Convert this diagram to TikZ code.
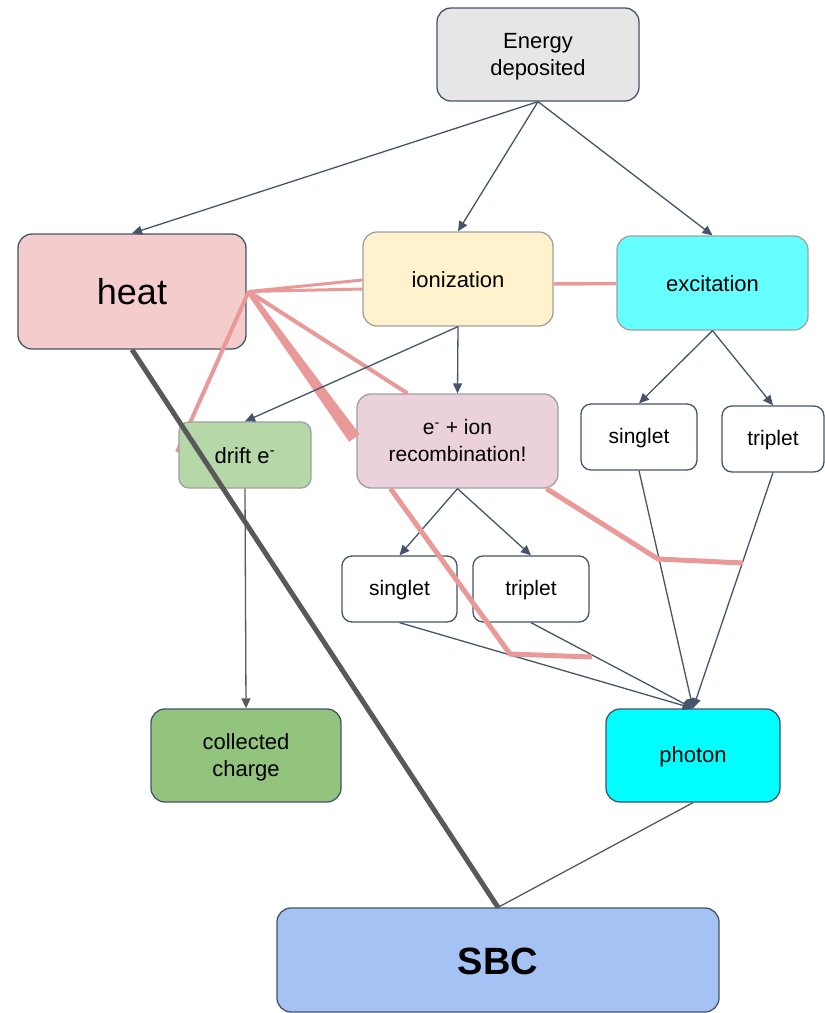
\documentclass[tikz,border=0pt]{standalone}
\usepackage{fontspec}
\setmainfont{Liberation Sans}
\usetikzlibrary{arrows.meta,calc}
\definecolor{slate}{HTML}{44546A}
\definecolor{lgray}{HTML}{A0A0A0}
\definecolor{egray}{HTML}{E6E6E6}
\definecolor{heatc}{HTML}{F4CCCC}
\definecolor{ionc}{HTML}{FFF2CC}
\definecolor{excc}{HTML}{66FFFF}
\definecolor{recc}{HTML}{EAD1DC}
\definecolor{driftc}{HTML}{B6D7A8}
\definecolor{collc}{HTML}{93C47D}
\definecolor{photc}{HTML}{00FFFF}
\definecolor{sbcc}{HTML}{A4C2F4}
\definecolor{pinkc}{HTML}{EA9999}
\definecolor{dgray}{HTML}{595959}
\newcommand\mysa{\rule[-0.08em]{0pt}{0.9em}}
\newcommand\myfirst{\rule{0pt}{0.9em}}
\newcommand\mylast{\rule[-0.22em]{0pt}{0pt}}
\tikzset{
  box/.style={rectangle, rounded corners=14pt, line width=1.3pt, align=center, inner sep=0pt,
    font=\fontsize{22}{27}\selectfont},
  sbox/.style={box, rounded corners=10pt, fill=white, draw=slate, minimum width=#1, minimum height=66pt},
  arr/.style={draw=slate, line width=1.3pt, -{Triangle[length=10pt,width=9pt]}},
  garr/.style={draw=dgray, line width=1.3pt, -{Triangle[length=10pt,width=9pt]}},
  pinkline/.style={draw=pinkc, line width=#1},
}
\begin{document}
\begin{tikzpicture}[x=1pt,y=-1pt]
\useasboundingbox (0,0) rectangle (825,1013);

\node[box, fill=egray, draw=slate, minimum width=202pt, minimum height=93pt] (en) at (538,54.5) {\myfirst Energy\\deposited\mylast};
\node[box, fill=heatc, draw=slate, minimum width=228pt, minimum height=115pt, font=\fontsize{36}{40}\selectfont] (heat) at (132,291.5) {\mysa heat};
\node[box, fill=ionc, draw=lgray, minimum width=190pt, minimum height=94pt] (ion) at (458,279) {\mysa ionization};
\node[box, fill=excc, draw=lgray, minimum width=191pt, minimum height=94pt] (exc) at (712.5,283) {\mysa excitation};
\node[box, fill=recc, draw=lgray, minimum width=201pt, minimum height=94pt, font=\fontsize{21}{27}\selectfont] (rec) at (457.5,441) {\myfirst e\textsuperscript{-} + ion\\recombination!\mylast};
\node[sbox=116pt, font=\fontsize{21}{25}\selectfont] (sR) at (639,437) {\mysa singlet};
\node[sbox=102pt, font=\fontsize{21}{25}\selectfont] (tR) at (773,439) {\mysa triplet};
\node[sbox=115pt, font=\fontsize{21}{25}\selectfont] (sM) at (399.5,589) {\mysa singlet};
\node[sbox=116pt, font=\fontsize{21}{25}\selectfont] (tM) at (531,589) {\mysa triplet};
\node[box, fill=collc, draw=slate, minimum width=190pt, minimum height=93pt] (coll) at (246,755.5) {\myfirst collected\\charge\mylast};
\node[box, fill=photc, draw=slate, minimum width=174pt, minimum height=93pt] (phot) at (693,755.5) {\mysa photon};
\node[box, fill=sbcc, draw=slate, minimum width=442pt, minimum height=104pt, font=\fontsize{38}{42}\selectfont\bfseries] (sbc) at (498,960) {\mysa SBC};

% pink heat lines
\coordinate (hp) at ($(heat.east)+(2,0)$);
\coordinate (dl) at (177,452);
\draw[pinkline=4pt] (hp) -- (dl);

\node[box, fill=driftc, draw=lgray, minimum width=132pt, minimum height=66pt, rounded corners=10pt] (drift) at (245,455) {\mysa drift e\textsuperscript{-}};

\draw[pinkline=3pt] (hp) -- ($(ion.west)+(0,1)$);
\draw[pinkline=3pt] (hp) -- ($(ion.west)+(0,10)$);
\draw[pinkline=3.5pt] ($(ion.east)+(0,5)$) -- ($(exc.west)+(0,0.5)$);
\coordinate (rt) at ($(rec.north)+(-50,0)$);
\draw[pinkline=4pt] (hp) -- (rt);
\fill[pinkc] ($(hp)+(2,-1.5)$) -- ($(rec.west)+(3.25,-6.8)$) -- ($(rec.west)+(-7.25,0.8)$) -- ($(hp)+(-2,1.5)$) -- cycle;

% arrows
\draw[arr] (en.south) -- (heat.north);
\draw[arr] (en.south) -- (ion.north);
\draw[arr] (en.south) -- (exc.north);
\draw[arr] (ion.south) -- (rec.north);
\draw[arr] (ion.south) -- (drift.north);
\draw[arr] (exc.south) -- (sR.north);
\draw[arr] (exc.south) -- (tR.north);
\draw[arr] (rec.south) -- (sM.north);
\draw[arr] (rec.south) -- (tM.north);
\draw[arr] (sM.south) -- (phot.north);
\draw[arr] (tM.south) -- (phot.north);
\draw[arr] (sR.south) -- (phot.north);
\draw[arr] (tR.south) -- (phot.north);
\draw[garr] (drift.south) -- (coll.north);
\draw[draw=dgray, line width=1.3pt] (phot.south) -- (sbc.north);
\draw[draw=dgray, line width=5pt] (heat.south) -- (sbc.north);

% pink recombination lines
\coordinate (b1) at (510,654);
\coordinate (e1) at (592,657);
\coordinate (b2) at (658,559);
\coordinate (e2) at (743,563);
\draw[pinkline=5pt] ($(rec.south)+(-67,0)$) -- (b1) -- (e1);
\draw[pinkline=5pt] ($(rec.south)+(89,0)$) -- (b2) -- (e2);
\end{tikzpicture}
\end{document}
